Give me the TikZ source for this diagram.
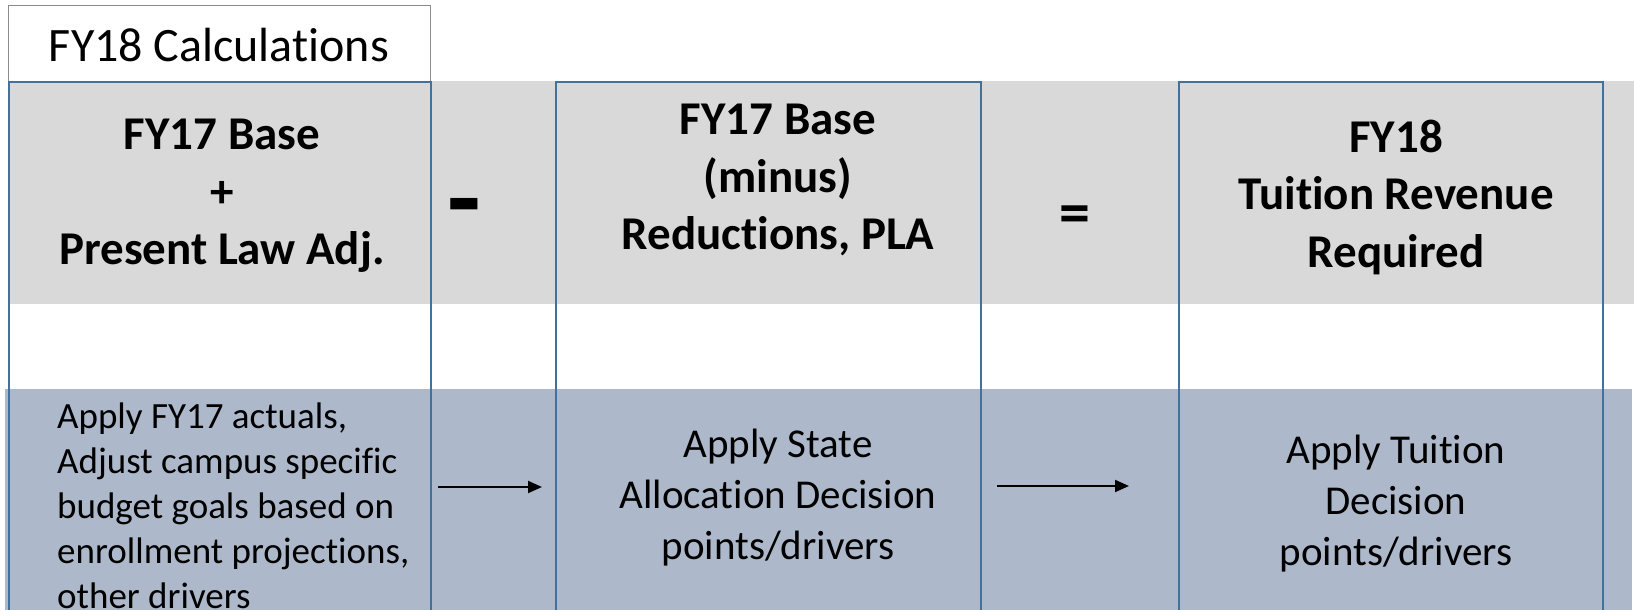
\documentclass[tikz,border=0pt]{standalone}
\usepackage{fontspec}
\setmainfont{Carlito}[Ligatures={NoCommon,NoContextual}]
\usetikzlibrary{arrows.meta}
\definecolor{bandgray}{HTML}{D9D9D9}
\definecolor{bandblue}{HTML}{ADB9CA}
\definecolor{colline}{HTML}{41719C}
\definecolor{titleline}{HTML}{8C8C8C}
\begin{document}
\begin{tikzpicture}[x=1pt,y=-1pt,
  colbox/.style={draw=colline,line width=1.6pt,minimum width=#1,minimum height=540pt,anchor=north west,inner sep=0pt},
  headtext/.style={font=\fontsize{47}{57.5}\selectfont\bfseries,align=center,inner sep=0pt},
  bodytext/.style={font=\fontsize{41}{51}\selectfont,align=center,inner sep=0pt},
  optext/.style={font=\bfseries,inner sep=0pt},
  flow/.style={-{Triangle[length=14pt,width=12pt]},line width=2pt,black}]
\useasboundingbox (0,0) rectangle (1634,610);
% bands
\fill[bandgray] (8,81) rectangle (1634,304);
\fill[bandblue] (5,389) rectangle (1632,610);
% title box
\node[draw=titleline,line width=1.3pt,minimum width=422pt,minimum height=76pt,anchor=north west,inner sep=0pt] (title) at (8,5) {};
\node[font=\fontsize{48}{57}\selectfont,inner sep=0pt] (titletext) at (219,45) {FY18 Calculations};
% columns
\node[colbox=422pt] (c1) at (8,81) {};
\node[colbox=425pt] (c2) at (555,81) {};
\node[colbox=424pt] (c3) at (1178,81) {};
% headings
\node[headtext] (h1) at (222,196) {FY17 Base\\+\\Present Law Adj.};
\node[headtext] (h2) at (778,180) {FY17 Base\\(minus)\\Reductions, PLA};
\node[headtext] (h3) at (1396,197) {FY18\\Tuition Revenue\\Required};
% operators
\node[optext,font=\fontsize{110}{110}\selectfont\bfseries] (minus) at (464,217) {-};
\node[optext,font=\fontsize{62}{62}\selectfont\bfseries] (equals) at (1075,220) {=};
% body texts
\node[font=\fontsize{37}{45}\selectfont,align=left,inner sep=0pt,anchor=west] (b1) at (57,506) {Apply FY17 actuals,\\Adjust campus specific\\budget goals based on\\enrollment projections,\\other drivers};
\node[bodytext] (b2) at (778,498) {Apply State\\Allocation Decision\\points/drivers};
\node[bodytext] (b3) at (1396,504) {Apply Tuition\\Decision\\points/drivers};
% arrows
\coordinate (a1s) at (438,487);
\coordinate (a1e) at (542,487);
\coordinate (a2s) at (997,486);
\coordinate (a2e) at (1129,486);
\draw[flow] (a1s) -- (a1e);
\draw[flow] (a2s) -- (a2e);
\end{tikzpicture}
\end{document}
